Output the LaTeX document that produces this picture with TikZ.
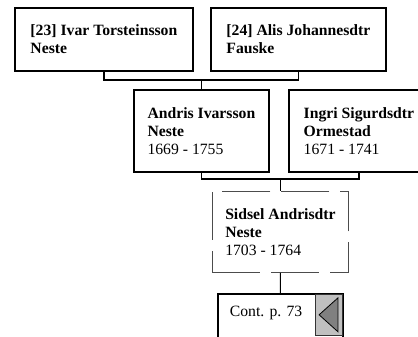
\documentclass[tikz,border=0pt]{standalone}
\usepackage{fontspec}
\setmainfont{Liberation Serif}
\definecolor{btngray}{RGB}{192,192,192}
\definecolor{arrgray}{RGB}{128,128,128}
\begin{document}
\begin{tikzpicture}[x=1bp,y=-1bp,
    person/.style={rectangle,draw=black,line width=1.8bp,anchor=north west,align=left,inner sep=0bp,
                   font=\fontsize{15.7bp}{17.8bp}\selectfont},
    proband/.style={person,draw=black!70,line width=0.9bp,dash pattern=on 48bp off 11bp},
    link/.style={draw=black,line width=1.8bp}]
        \useasboundingbox (0,0) rectangle (418,337);

        \node[person,minimum width=178bp,minimum height=63bp] (F)  at  ( 14,  7) {\textbf{[23] Ivar Torsteinsson}\\\textbf{Neste}};
        \node[person,minimum width=175bp,minimum height=63bp] (M)  at  (210,  7) {\textbf{[24] Alis Johannesdtr}\\\textbf{Fauske}};
        \node[person,minimum width=135bp,minimum height=82bp] (A)  at  (133, 89) {\textbf{Andris Ivarsson}\\\textbf{Neste}\\1669 - 1755};
        \node[person,minimum width=140bp,minimum height=82bp] (I)  at  (288, 89) {\textbf{Ingri Sigurdsdtr}\\\textbf{Ormestad}\\1671 - 1741};
        \node[proband,minimum width=136bp,minimum height=81bp] (S) at  (212,191) {\textbf{Sidsel Andrisdtr}\\\textbf{Neste}\\1703 - 1764};
        \node[person,text width=101bp,inner xsep=12bp,text height=11bp,text depth=17bp,minimum height=52bp] (C) at (217,293) {Cont.\ p.\ 73};
        \node[rectangle,draw=black!80,line width=0.8bp,fill=btngray,anchor=north east,minimum width=27bp,minimum height=41bp,inner sep=0bp] (B) at ([xshift=-0.9bp,yshift=-0.9bp]C.north east) {};

        \fill[arrgray,draw=black,line width=0.8bp] ([xshift=4bp]B.west) -- ([xshift=-5bp,yshift=-4bp]B.north east) -- ([xshift=-5bp,yshift=4bp]B.south east) -- cycle;

        \coordinate (J1) at (A.north |- 0,80);
        \coordinate (J2) at (S.north |- 0,179);

        \draw[link] (F.south) |- (J1) -| (M.south);
        \draw[link] (J1) -- (A.north);
        \draw[link] (A.south) |- (J2) -| (I.south);
        \draw[link] (J2) -- (S.north);
        \draw[link,line width=1bp] (S.south) -- (C.north);
      \end{tikzpicture}
\end{document}
